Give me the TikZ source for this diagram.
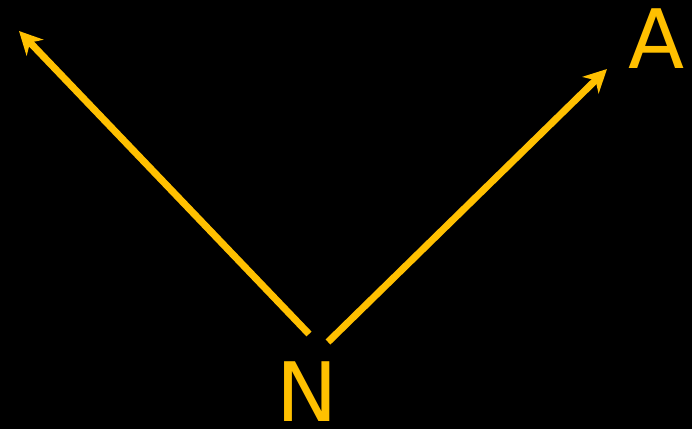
\documentclass[tikz,border=0pt]{standalone}
\usepackage{fontspec}
\setmainfont{DejaVu Sans}
\usetikzlibrary{arrows.meta}
\definecolor{gold}{HTML}{FFC000}
\begin{document}
\begin{tikzpicture}[x=1pt,y=-1pt,
  lbl/.style={text=gold,font=\fontsize{82}{82}\selectfont,inner sep=0pt,anchor=base},
  arr/.style={draw=gold,line width=7pt,-{Stealth[length=23pt,width=23pt,inset=7pt]}}]
\fill[black] (0,0) rectangle (692,429);
\useasboundingbox (0,0) rectangle (692,429);
\node[lbl] (A) at (657,68) {A};
\node[lbl] (N) at (307.5,421) {N};
\coordinate (s1) at (309,334);
\coordinate (t1) at (19,31);
\coordinate (s2) at (328,342);
\coordinate (t2) at (607,69);
\draw[arr] (s1) -- (t1);
\draw[arr] (s2) -- (t2);
\end{tikzpicture}
\end{document}
